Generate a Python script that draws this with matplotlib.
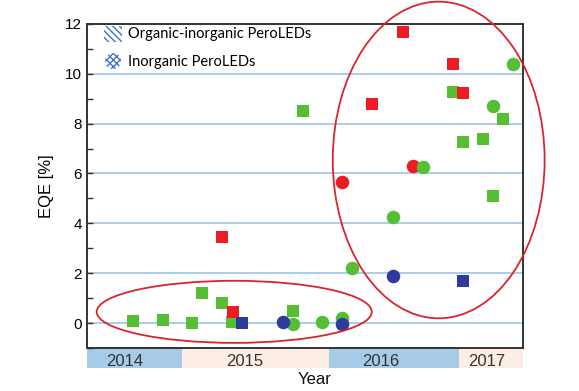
import matplotlib
matplotlib.use("Agg")
import matplotlib.pyplot as plt
import matplotlib.patches as mpatches
import matplotlib.transforms as mtransforms
from matplotlib.legend_handler import HandlerPatch

# x is a position along the time axis (0-100), y is EQE in %
green_sq_x = [10.5, 17.4, 24.2, 26.5, 31.0, 33.3, 47.2, 49.5, 84.0, 86.3, 90.9, 93.2, 95.5]
green_sq_y = [0.08, 0.11, -0.01, 1.19, 0.79, 0.03, 0.48, 8.5, 9.28, 7.28, 7.37, 5.08, 8.2]
green_ci_x = [47.3, 54.0, 58.6, 60.9, 70.2, 77.0, 93.2, 97.8]
green_ci_y = [-0.04, 0.03, 0.19, 2.2, 4.24, 6.27, 8.71, 10.38]
red_sq_x = [31.0, 33.5, 65.5, 72.5, 84.0, 86.3]
red_sq_y = [3.46, 0.45, 8.79, 11.69, 10.39, 9.22]
red_ci_x = [58.6, 74.7]
red_ci_y = [5.67, 6.3]
blue_sq_x = [35.7, 86.3]
blue_sq_y = [0.0, 1.7]
blue_ci_x = [44.9, 58.6, 70.2]
blue_ci_y = [0.05, -0.03, 1.89]

years = ["2014", "2015", "2016", "2017"]
year_edges = [0, 21.8, 55.5, 85.3, 100]
year_label_x = [8.7, 36.2, 67.4, 91.8]

GREEN = "#55BE32"
RED = "#EC1C24"
BLUE = "#2E3A9C"
GRID = "#9DC3E6"
BAND_BLUE = "#A6CBE8"
BAND_PEACH = "#FCEEE4"
LEG_BLUE = "#4472C4"

plt.rcParams["font.family"] = ["Liberation Sans", "DejaVu Sans"]
plt.rcParams["hatch.linewidth"] = 1.0


class HandlerCircle(HandlerPatch):
    def create_artists(self, legend, orig_handle, xdescent, ydescent,
                       width, height, fontsize, trans):
        r = min(width, height) / 2
        c = mpatches.Circle((width / 2 - xdescent, height / 2 - ydescent), r)
        self.update_prop(c, orig_handle, legend)
        c.set_transform(trans)
        return [c]


fig = plt.figure(figsize=(5.79, 3.91), dpi=100)
ax = fig.add_axes([0.150, 0.110, 0.753, 0.829])

ax.set_xlim(0, 100)
ax.set_ylim(-1, 12)

# horizontal guide lines
for v in range(0, 12, 2):
    ax.axhline(v, color=GRID, lw=1.2, zorder=1)

sq = 78
ci = 95
ax.scatter(green_sq_x, green_sq_y, s=sq, marker="s", color=GREEN, lw=0, zorder=3)
ax.scatter(red_sq_x, red_sq_y, s=sq, marker="s", color=RED, lw=0, zorder=3)
ax.scatter(green_ci_x, green_ci_y, s=ci, marker="o", color=GREEN, lw=0, zorder=3)
ax.scatter(red_ci_x, red_ci_y, s=ci, marker="o", color=RED, lw=0, zorder=2.9)
ax.scatter(blue_sq_x, blue_sq_y, s=sq, marker="s", color=BLUE, lw=0, zorder=4)
ax.scatter(blue_ci_x, blue_ci_y, s=ci, marker="o", color=BLUE, lw=0, zorder=4)

# grouping ellipses
ax.add_patch(mpatches.Ellipse((33.8, 0.45), 63.1, 2.49, fill=False,
                              edgecolor="#D7262D", lw=1.3, zorder=5))
ax.add_patch(mpatches.Ellipse((80.7, 6.54), 48.6, 12.7, fill=False,
                              edgecolor="#D7262D", lw=1.3, zorder=5, clip_on=False))

# year bands under the axis
trans = mtransforms.blended_transform_factory(ax.transData, ax.transAxes)
for i, yr in enumerate(years):
    col = BAND_BLUE if i % 2 == 0 else BAND_PEACH
    ax.add_patch(mpatches.Rectangle((year_edges[i], -0.062), year_edges[i + 1] - year_edges[i],
                                    0.062, transform=trans, color=col, lw=0, clip_on=False))
    ax.text(year_label_x[i], -0.042, yr, transform=trans, ha="center", va="center",
            fontsize=12, color="#333333")

ax.text(0.523, -0.097, "Year", transform=ax.transAxes, ha="center", va="center",
        fontsize=12, color="#111111")
ax.set_ylabel("EQE [%]", fontsize=12, labelpad=8)

ax.set_yticks(range(0, 13, 2))
ax.set_yticks(range(-1, 12, 2), minor=True)
ax.set_xticks([])
ax.tick_params(axis="y", which="both", direction="in", length=4, width=1,
               labelsize=11, color="#333333")
for s in ax.spines.values():
    s.set_color("#333333")
    s.set_linewidth(1.4)

h1 = mpatches.Patch(facecolor="white", edgecolor=LEG_BLUE, hatch="\\\\\\\\\\", lw=0)
h2 = mpatches.Circle((0, 0), 1, facecolor="white", edgecolor=LEG_BLUE, hatch="xxxxx", lw=0)
leg = ax.legend([h1, h2], ["Organic-inorganic PeroLEDs", "Inorganic PeroLEDs"],
                handler_map={mpatches.Circle: HandlerCircle()},
                loc="upper left", bbox_to_anchor=(0.01, 1.035), frameon=False,
                handlelength=1.2, handleheight=1.3, handletextpad=0.45,
                labelspacing=0.8, prop={"family": "Lato", "size": 10.5})

fig.savefig("out.png", dpi=100)
